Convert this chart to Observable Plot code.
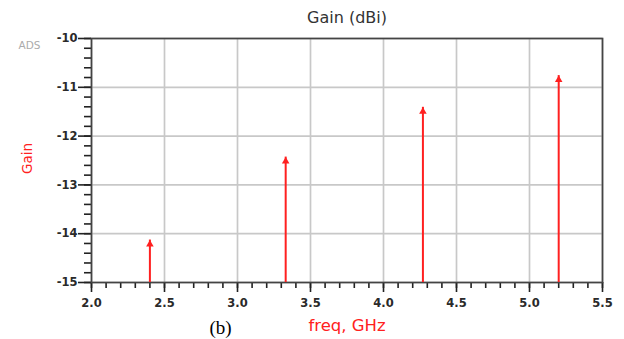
<!DOCTYPE html>
<html>
<head>
<meta charset="utf-8">
<script src="https://cdn.jsdelivr.net/npm/d3@7"></script>
<script src="https://cdn.jsdelivr.net/npm/@observablehq/plot@0.6"></script>
<style>
  html, body { margin: 0; padding: 0; background: #fff; }
  #chart { width: 624px; height: 339px; }
</style>
</head>
<body>
<div id="chart"></div>
<script>
// Data
const freqs = [2.4, 3.33, 4.27, 5.2];           // GHz
const gains = [-14.13, -12.43, -11.41, -10.76];  // dBi

const xMajorTicks = [2.0, 2.5, 3.0, 3.5, 4.0, 4.5, 5.0, 5.5];
const xMinorTicks = d3.range(20, 56).map(v => v / 10);
const yMajorTicks = [-15, -14, -13, -12, -11, -10];
const yMinorTicks = d3.range(-75, -49).map(v => v / 5);

const titleText = "Gain (dBi)";
const yLabelText = "Gain";
const xLabelText = "freq, GHz";
const adsText = "ADS";
const panelText = "(b)";

const data = freqs.map((f, i) => ({freq: f, gain: gains[i]}));

const sans = "DejaVu Sans, Verdana, sans-serif";
const tickFont = {fontFamily: sans, fontSize: 11.5, fontWeight: "bold"};

const plot = Plot.plot({
  width: 624,
  height: 339,
  marginLeft: 91,
  marginRight: 22,
  marginTop: 38,
  marginBottom: 57,
  style: {background: "#fff", fontFamily: sans},
  x: {domain: [2, 5.5]},
  y: {domain: [-15, -10]},
  marks: [
    Plot.gridX(xMajorTicks, {stroke: "#c8c8c8", strokeOpacity: 1, strokeWidth: 1.7}),
    Plot.gridY(yMajorTicks, {stroke: "#c8c8c8", strokeOpacity: 1, strokeWidth: 1.7}),
    Plot.axisX({ticks: xMinorTicks, tickSize: 6, tickFormat: () => "", stroke: "#222", strokeWidth: 1.6, label: null}),
    Plot.axisX({ticks: xMajorTicks, tickSize: 10, tickPadding: 6, tickFormat: d3.format(".1f"), stroke: "#222", strokeWidth: 1.6, fill: "#2a2a2a", ...tickFont, label: null}),
    Plot.axisY({ticks: yMinorTicks, tickSize: 7, tickFormat: () => "", stroke: "#222", strokeWidth: 1.6, label: null}),
    Plot.axisY({ticks: yMajorTicks, tickSize: 13, tickPadding: 1, tickFormat: d => String(d), stroke: "#222", strokeWidth: 1.6, fill: "#2a2a2a", ...tickFont, label: null}),
    Plot.frame({stroke: "#444", strokeWidth: 1.7}),
    Plot.ruleX(data, {x: "freq", y1: -15, y2: "gain", stroke: "#ff2020", strokeWidth: 2}),
    Plot.dot(data, {x: "freq", y: "gain", symbol: "triangle", r: 2.8, fill: "#ff2020", stroke: "none", dy: 4.3}),
    Plot.text([titleText], {frameAnchor: "top", dy: -21, textAnchor: "middle", lineAnchor: "middle", text: d => d, fontSize: 16, fill: "#333"}),
    Plot.text([adsText], {frameAnchor: "top-left", dx: -62, dy: 7, textAnchor: "middle", lineAnchor: "middle", text: d => d, fontSize: 10.5, fill: "#ababab"}),
    Plot.text([yLabelText], {frameAnchor: "left", dx: -64, dy: -2, textAnchor: "middle", lineAnchor: "middle", rotate: -90, text: d => d, fontSize: 13.5, fill: "#ff2020"}),
    Plot.text([xLabelText], {frameAnchor: "bottom", dy: 43, textAnchor: "middle", lineAnchor: "middle", text: d => d, fontSize: 16.5, fill: "#ff2020"}),
    Plot.text([panelText], {frameAnchor: "bottom-left", dx: 129, dy: 45, textAnchor: "middle", lineAnchor: "middle", text: d => d, fontSize: 19, fill: "#000", fontFamily: "Liberation Serif, Times New Roman, serif"})
  ]
});
document.getElementById("chart").appendChild(plot);
</script>
</body>
</html>
